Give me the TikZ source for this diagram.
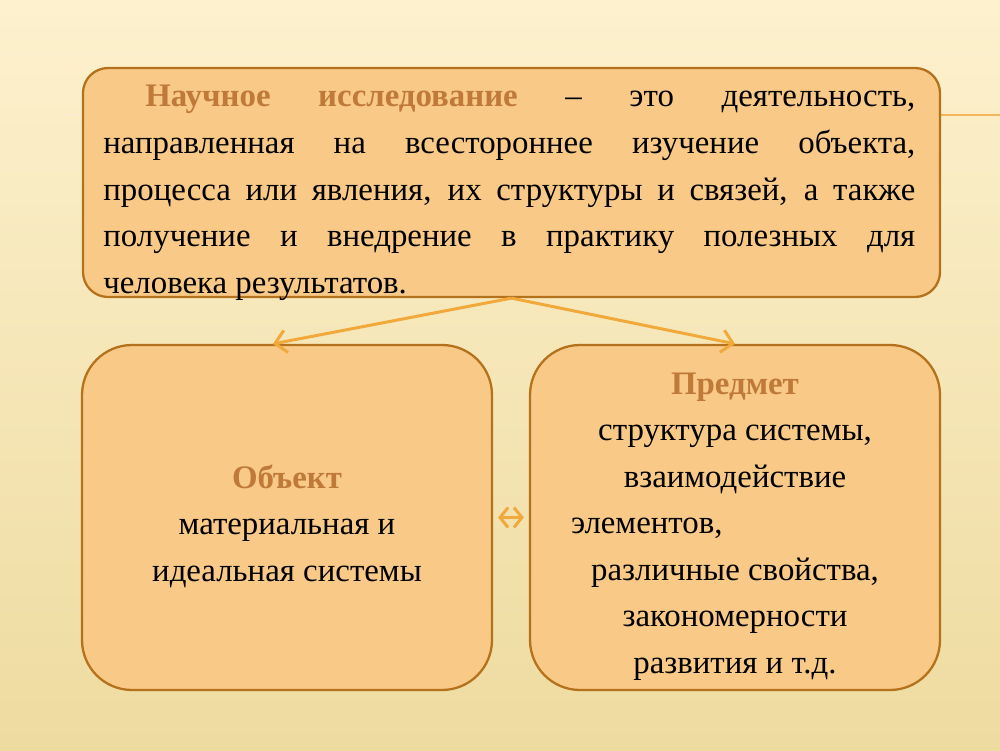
\documentclass[tikz,border=0pt]{standalone}
\usepackage{fontspec}
\setmainfont{Liberation Serif}
\usetikzlibrary{arrows.meta,positioning,calc}

\definecolor{bgtop}{HTML}{FDF1CE}
\definecolor{bgmid}{HTML}{F8EBC2}
\definecolor{bgbot}{HTML}{EEDBA0}
\definecolor{cardfill}{HTML}{F8C987}
\definecolor{carddraw}{HTML}{B4721C}
\definecolor{titlebrown}{HTML}{BF7A3A}
\definecolor{arrorange}{HTML}{F2A93B}

\newcommand{\ttl}[1]{\textbf{\color{titlebrown}#1}}
\newcommand{\bodyfont}{\fontsize{18.7}{26.5}\selectfont}

\tikzset{
  card/.style={draw=carddraw, line width=1.3pt, fill=cardfill, rounded corners=#1},
  card/.default=0.5cm,
  cardtext/.style={font=\bodyfont, align=center, inner sep=0},
  link/.style={draw=arrorange, line width=1.7pt, -{Straight Barb[length=2.2mm,width=4.5mm]}},
}

\begin{document}
\begin{tikzpicture}
% Background
\shade[top color=bgtop, middle color=bgmid, bottom color=bgbot] (0,0) rectangle (20,15);
\useasboundingbox (0,0) rectangle (20,15);
\draw[arrorange!25, line width=0.8pt] (1.3,12.7) -- (1.7,12.7);
\draw[arrorange!85, line width=0.8pt] (18.7,12.7) -- (20,12.7);

% Definition
\node[card, minimum width=17.14cm, minimum height=4.58cm] (defin) at (10.23,11.35) {};
\node[anchor=north west, inner sep=0, align=left, font=\bodyfont] (deftext) at (2.06,13.3) {%
\makebox[16.24cm][s]{\hspace*{0.84cm}\ttl{Научное исследование} – это деятельность,}\\
\makebox[16.24cm][s]{направленная на всестороннее изучение объекта,}\\
\makebox[16.24cm][s]{процесса или явления, их структуры и связей, а также}\\
\makebox[16.24cm][s]{получение и внедрение в практику полезных для}\\
человека результатов.};

% Object
\node[card=1cm, minimum width=8.2cm, minimum height=6.9cm] (obj) at (5.74,4.65) {};
\node[cardtext] (objtext) at ([yshift=-0.17cm]obj.center) {%
\ttl{Объект}\\
материальная и\\
идеальная системы};

% Subject
\node[card=1cm, minimum width=8.2cm, minimum height=6.9cm] (pred) at (14.7,4.65) {};
\node[cardtext] (predtext) at ([yshift=-0.18cm]pred.center) {%
\ttl{Предмет}\\
структура системы,\\
взаимодействие\\
\makebox[6.96cm][l]{\hspace*{0.2cm}элементов,}\\
различные свойства,\\
закономерности\\
развития и т.д.};

% Arrows
\draw[link] (defin.south) -- ([xshift=-0.28cm]obj.north);
\draw[link] (defin.south) -- (pred.north);
\draw[link, {Straight Barb[length=1.6mm,width=4mm]}-{Straight Barb[length=1.6mm,width=4mm]}, shorten <=0.1cm, shorten >=0.1cm] (obj.east) -- (pred.west);
\end{tikzpicture}
\end{document}
